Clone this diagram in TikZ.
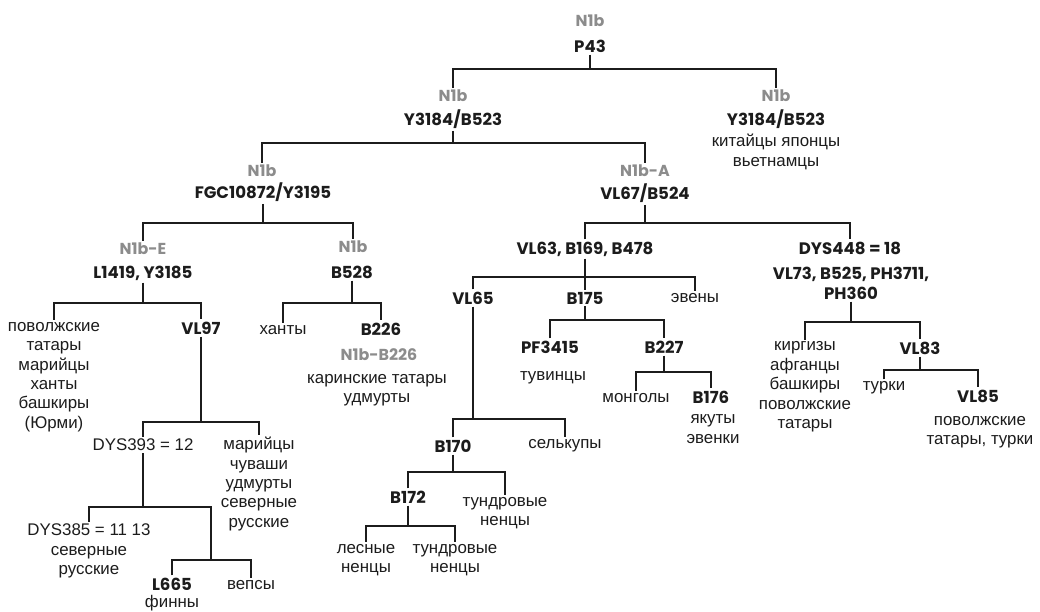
\documentclass[tikz,border=0pt]{standalone}
\usepackage{fontspec}
\setmainfont{Liberation Sans}
\newfontfamily\markfont{Poppins}
\definecolor{tagGray}{HTML}{8C8C8C}
\definecolor{inkBlack}{HTML}{1C1C1C}
\begin{document}
\begin{tikzpicture}[x=0.025cm, y=-0.025cm,
		every node/.style = {align=center, inner sep=1.5pt, text=inkBlack,
			font=\fontsize{12}{13.8}\selectfont},
		snp/.style = {font=\markfont\bfseries\fontsize{11.8}{14.2}\selectfont},
		hg/.style = {snp, text=tagGray, font=\markfont\bfseries\fontsize{11.3}{13}\selectfont},
		link/.style = {draw=inkBlack, line width=1.3pt}]
		\useasboundingbox (0,0) rectangle (1040,612);
		\node[hg] (rtN) at (590,21) {N1b};
		\node[snp] (rt) at (590,46) {P43};
		\node[hg] (aN) at (453,96) {N1b};
		\node[snp] (a) at (453,119) {Y3184/B523};
		\node[hg] (bN) at (776,96) {N1b};
		\node[snp] (b) at (776,119) {Y3184/B523};
		\node (bT) at (776,152) {китайцы японцы\\вьетнамцы};
		\node[hg] (cN) at (262,171) {N1b};
		\node[snp] (c) at (263,192) {FGC10872/Y3195};
		\node[hg] (dN) at (645,171) {N1b-A};
		\node[snp] (d) at (645,193) {VL67/B524};
		\node[hg] (eN) at (143,249) {N1b-E};
		\node[snp] (e) at (143,273) {L1419, Y3185};
		\node[hg] (fN) at (353,247) {N1b};
		\node[snp] (f) at (352,272) {B528};
		\node[snp] (g) at (585,249) {VL63, B169, B478};
		\node[snp] (h) at (850,248) {DYS448 = 18};
		\node[snp] (hM) at (851,283) {VL73, B525, PH3711,\\PH360};
		\node (e1) at (54,377) {поволжские\\татары\\марийцы\\ханты\\башкиры\\(Юрми)};
		\node[snp] (e2) at (201,328) {VL97};
		\node (e21) at (143,445) {DYS393 = 12};
		\node (e22) at (259,484) {марийцы\\чуваши\\удмурты\\северные\\русские};
		\node (e211) at (89,530) {DYS385 = 11 13};
		\node (e211T) at (89,562) {северные\\русские};
		\coordinate (e212) at (211,560);
		\node[snp] (e2121) at (172,584) {L665};
		\node (e2121T) at (172,603) {финны};
		\node (e2122) at (251,585) {вепсы};
		\node (f1) at (283,330) {ханты};
		\node[snp] (f2) at (381,329) {B226};
		\node[hg] (f2N) at (379,355) {N1b-B226};
		\node (f2T) at (377,390) {каринские татары\\удмурты};
		\node[snp] (g1) at (473,298) {VL65};
		\node[snp] (g2) at (585,298) {B175};
		\node (g3) at (695,298) {эвены};
		\node[snp] (g11) at (453,446) {B170};
		\node (g12) at (565,446) {селькупы};
		\node[snp] (g111) at (408,497) {B172};
		\node (g112) at (505,513) {тундровые\\ненцы};
		\node (g1111) at (366,560) {лесные\\ненцы};
		\node (g1112) at (455,560) {тундровые\\ненцы};
		\node[snp] (g21) at (550,347) {PF3415};
		\node (g21T) at (553,378) {тувинцы};
		\node[snp] (g22) at (664,347) {B227};
		\node (g221) at (636,398) {монголы};
		\node[snp] (g222) at (711,397) {B176};
		\node (g222T) at (713,429) {якуты\\эвенки};
		\node (h1) at (805,387) {киргизы\\афганцы\\башкиры\\поволжские\\татары};
		\node[snp] (h2) at (920,348) {VL83};
		\node (h21) at (884,388) {турки};
		\node[snp] (h22) at (978,396) {VL85};
		\node (h22T) at (980,432) {поволжские\\татары, турки};
		\coordinate (rtBar) at (rt.south |- 0,69);
		\coordinate (aBar) at (a.south |- 0,143);
		\coordinate (cBar) at (c.south |- 0,223);
		\coordinate (dBar) at (d.south |- 0,223);
		\coordinate (eBar) at (e.south |- 0,303);
		\coordinate (fBar) at (f.south |- 0,303);
		\coordinate (gBar) at (g.south |- 0,277);
		\coordinate (hBar) at (hM.south |- 0,322);
		\coordinate (e2Bar) at (e2.south |- 0,422);
		\coordinate (e21Bar) at (e21.south |- 0,507);
		\coordinate (g1Bar) at (g1.south |- 0,419);
		\coordinate (g11Bar) at (g11.south |- 0,472);
		\coordinate (g111Bar) at (g111.south |- 0,526);
		\coordinate (g2Bar) at (g2.south |- 0,320);
		\coordinate (g22Bar) at (g22.south |- 0,372);
		\coordinate (h2Bar) at (h2.south |- 0,370);
		\draw[link] (rt.south) -- (rtBar) (aN.north) |- (rtBar) -| (bN.north);
		\draw[link] (a.south) -- (aBar) (cN.north) |- (aBar) -| (dN.north);
		\draw[link] (c.south) -- (cBar) (eN.north) |- (cBar) -| (fN.north);
		\draw[link] (d.south) -- (dBar) (g.north) |- (dBar) -| (h.north);
		\draw[link] (e.south) -- (eBar) (e1.north) |- (eBar) -| (e2.north);
		\draw[link] (f.south) -- (fBar) (f1.north) |- (fBar) -| (f2.north);
		\draw[link] (g.south) -- (gBar) -- (g2.north) (g1.north) |- (gBar) -| (g3.north);
		\draw[link] (hM.south) -- (hBar) (h1.north) |- (hBar) -| (h2.north);
		\draw[link] (e2.south) -- (e2Bar) (e21.north) |- (e2Bar) -| (e22.north);
		\draw[link] (e21.south) -- (e21Bar) (e211.north) |- (e21Bar) -| (e212);
		\draw[link] (e2121.north) |- (e212) -| (e2122.north);
		\draw[link] (g1.south) -- (g1Bar) (g11.north) |- (g1Bar) -| (g12.north);
		\draw[link] (g11.south) -- (g11Bar) (g111.north) |- (g11Bar) -| (g112.north);
		\draw[link] (g111.south) -- (g111Bar) (g1111.north) |- (g111Bar) -| (g1112.north);
		\draw[link] (g2.south) -- (g2Bar) (g21.north) |- (g2Bar) -| (g22.north);
		\draw[link] (g22.south) -- (g22Bar) (g221.north) |- (g22Bar) -| (g222.north);
		\draw[link] (h2.south) -- (h2Bar) (h21.north) |- (h2Bar) -| (h22.north);
\end{tikzpicture}
\end{document}
